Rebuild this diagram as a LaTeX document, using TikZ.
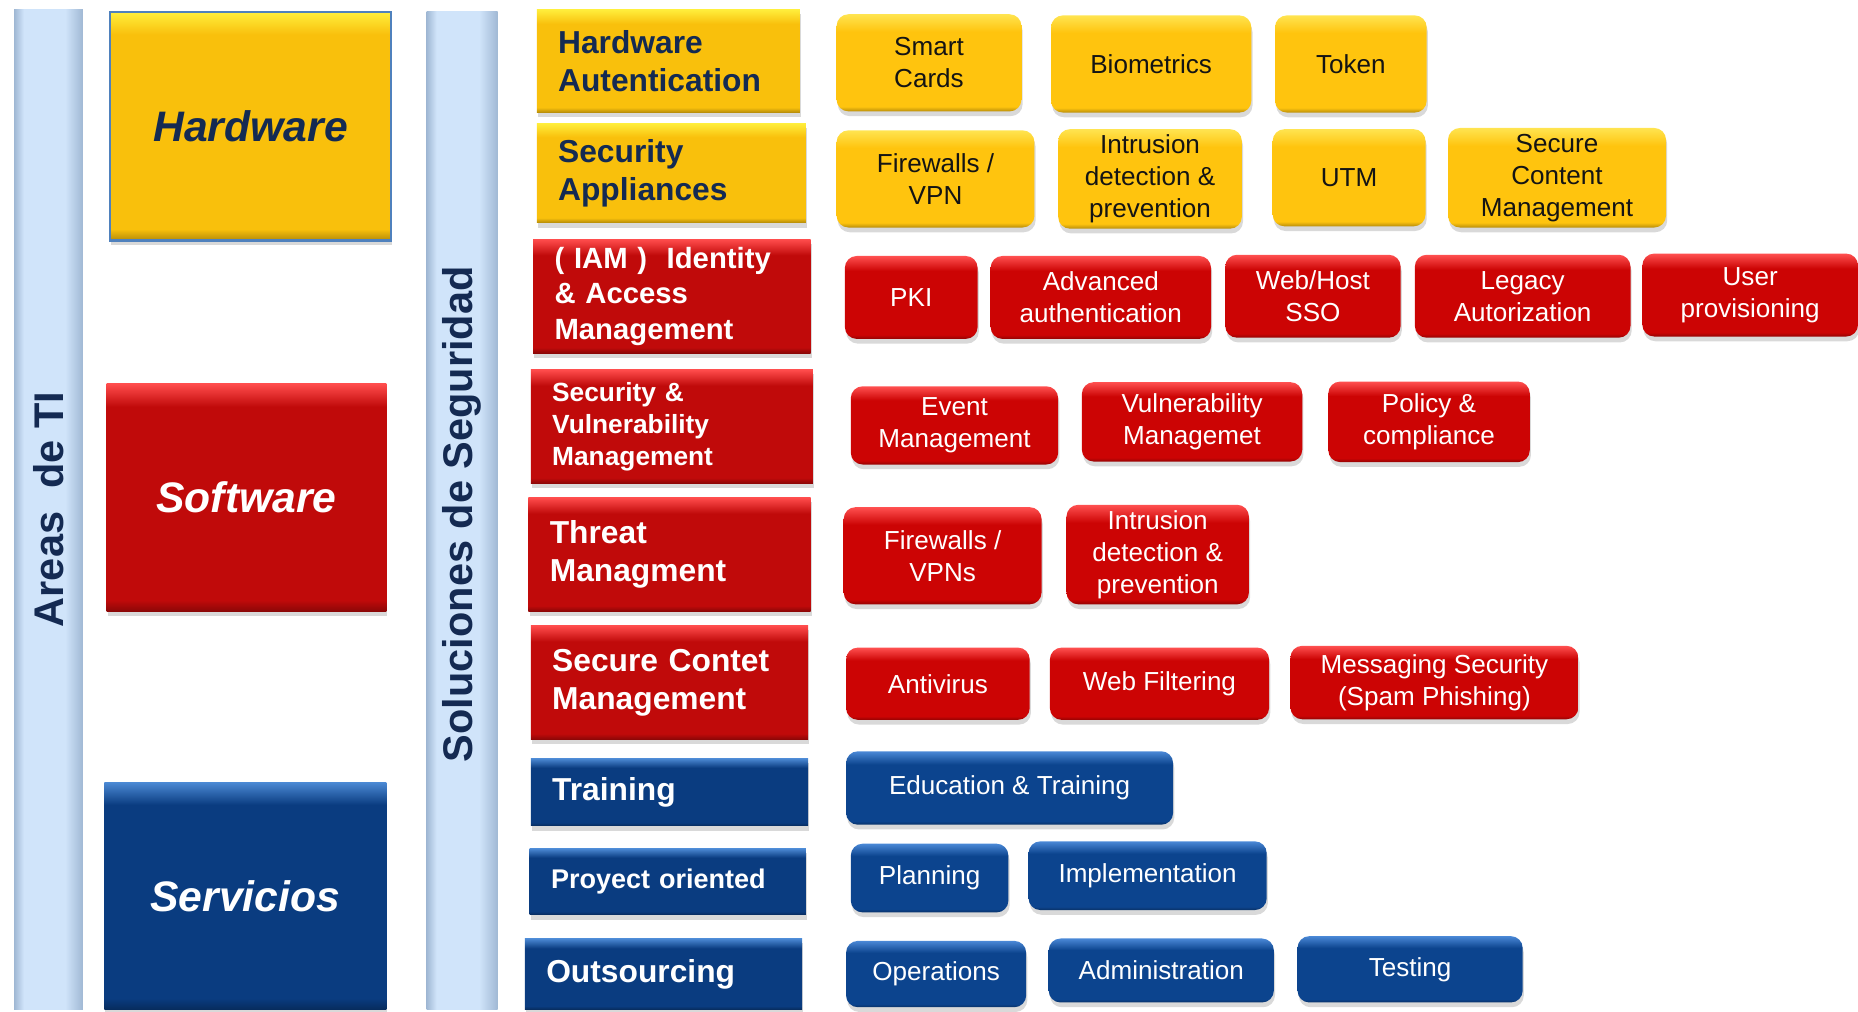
\documentclass[tikz,border=0pt]{standalone}
\usepackage{fontspec}
\setmainfont{Liberation Sans}
\usetikzlibrary{shadows}
\definecolor{catyellow}{RGB}{249, 192, 12}
\definecolor{catyellowtop}{RGB}{255, 238, 60}
\definecolor{catred}{RGB}{192, 10, 10}
\definecolor{catredtop}{RGB}{255, 76, 76}
\definecolor{catblue}{RGB}{10, 60, 128}
\definecolor{catbluetop}{RGB}{76, 138, 213}
\definecolor{itemyellow}{RGB}{255, 196, 14}
\definecolor{itemyellowtop}{RGB}{255, 228, 80}
\definecolor{itemred}{RGB}{204, 4, 4}
\definecolor{itemredtop}{RGB}{255, 80, 80}
\definecolor{itemblue}{RGB}{12, 68, 142}
\definecolor{itembluetop}{RGB}{74, 136, 214}
\definecolor{barlight}{RGB}{208, 228, 250}
\definecolor{baredge}{RGB}{160, 184, 212}
\definecolor{hwborder}{RGB}{79, 129, 189}
\definecolor{navytext}{RGB}{20, 42, 82}
\definecolor{darktext}{RGB}{20, 20, 20}
\newcommand{\boxshade}[4]{%
    \pgfdeclareverticalshading{#1}{100bp}{color(0bp)=(#2!72!black);
        color(25bp)=(#2!72!black); color(27.5bp)=(#2); color(#4bp)=(#2);
        color(75bp)=(#3); color(100bp)=(#3)}}
\boxshade{yellowcatshade}{catyellow}{catyellowtop}{68}
\boxshade{redcatshade}{catred}{catredtop}{68}
\boxshade{bluecatshade}{catblue}{catbluetop}{68}
\boxshade{yellowareashade}{catyellow}{catyellowtop}{70}
\boxshade{redareashade}{catred}{catredtop}{70}
\boxshade{blueareashade}{catblue}{catbluetop}{70}
\boxshade{yellowitemshade}{itemyellow}{itemyellowtop}{66}
\boxshade{reditemshade}{itemred}{itemredtop}{66}
\boxshade{blueitemshade}{itemblue}{itembluetop}{66}
\pgfdeclarehorizontalshading{sidebarshade}{100bp}{color(0bp)=(baredge);
    color(25bp)=(baredge); color(32bp)=(barlight); color(62bp)=(barlight);
    color(75bp)=(baredge); color(100bp)=(baredge)}
\tikzset{
    sidebar/.style={shade, shading=sidebarshade, inner sep=0pt},
    bartext/.style={rotate=90, text=navytext,
        font=\fontsize{35}{40}\selectfont\bfseries},
    areabox/.style={shade, inner sep=0pt,
        font=\fontsize{36}{40}\selectfont\bfseries\itshape,
        drop shadow={opacity=.3, shadow xshift=1pt, shadow yshift=-4pt}},
    catbox/.style={shade, inner xsep=18pt, inner ysep=0pt, align=left,
        font=\fontsize{26.8}{32}\selectfont\bfseries,
        drop shadow={opacity=.3, shadow xshift=1pt, shadow yshift=-4pt}},
    itembox/.style={shade, rounded corners=10pt, inner sep=0pt, align=center,
        font=\fontsize{22}{27}\selectfont,
        drop shadow={opacity=.3, shadow xshift=1pt, shadow yshift=-4pt}},
    yitem/.style={itembox, shading=yellowitemshade, text=darktext},
    ritem/.style={itembox, shading=reditemshade, text=white},
    bitem/.style={itembox, shading=blueitemshade, text=white},
}
\begin{document}
\begin{tikzpicture}[x=1pt, y=-1pt]
    \useasboundingbox (0,0) rectangle (1568,854);
    % side bars
    \node[sidebar, minimum width=58, minimum height=844] (barti) at (41,430) {};
    \node[bartext] (titext) at (41,430) {Areas\ \ de TI};
    \node[sidebar, minimum width=60, minimum height=842] (barsol) at (390,431) {};
    \node[bartext] (soltext) at (390,434) {Soluciones de Seguridad};
    % areas
    \node[areabox, shading=yellowareashade, draw=hwborder, line width=2pt,
        text=navytext, minimum width=237, minimum height=193]
        (hardware) at (211.5,106.5) {Hardware};
    \node[areabox, shading=redareashade, text=white, minimum width=236,
        minimum height=192] (software) at (208,420) {Software};
    \node[areabox, shading=blueareashade, text=white, minimum width=238,
        minimum height=192] (servicios) at (207,756) {Servicios};
    % categories
    \node[catbox, shading=yellowcatshade, text=navytext, text width=186,
        minimum height=87] (hwauth) at (564,51.5) {Hardware\\Autentication};
    \node[catbox, shading=yellowcatshade, text=navytext, text width=191,
        minimum height=84] (secapp) at (566.5,146) {Security\\Appliances};
    \node[catbox, shading=redcatshade, text=white, text width=198,
        minimum height=96, font=\fontsize{24.7}{30}\selectfont\bfseries]
        (iam) at (567,250) {( IAM )~ Identity\\\& Access\\Management};
    \node[catbox, shading=redcatshade, text=white, text width=202,
        minimum height=96, font=\fontsize{22.2}{27}\selectfont\bfseries]
        (secvul) at (567,360) {Security \&\\Vulnerability\\Management};
    \node[catbox, shading=redcatshade, text=white, text width=202,
        minimum height=96] (threat) at (565,468) {Threat\\Managment};
    \node[catbox, shading=redcatshade, text=white, text width=198,
        minimum height=96] (scm) at (565,576) {Secure Contet\\Management};
    \node[catbox, shading=bluecatshade, text=white, text width=198,
        minimum height=57] (training) at (565,668.5) {Training};
    \node[catbox, shading=bluecatshade, text=white, text width=197,
        minimum height=56, font=\fontsize{22.8}{27}\selectfont\bfseries]
        (proyect) at (563.5,744) {Proyect oriented};
    \node[catbox, shading=bluecatshade, text=white, text width=198,
        minimum height=60] (outsourcing) at (560,822) {Outsourcing};
    % hardware autentication
    \node[yitem, minimum width=156, minimum height=82] (smartcards) at (784,53) {Smart\\Cards};
    \node[yitem, minimum width=169, minimum height=82] (biometrics) at (971.5,54) {Biometrics};
    \node[yitem, minimum width=128, minimum height=82] (token) at (1140,54) {Token};
    % security appliances
    \node[yitem, minimum width=167, minimum height=82] (hwfirewall) at (789.5,151) {Firewalls /\\VPN};
    \node[yitem, minimum width=155, minimum height=84] (hwintrusion) at (970.5,151) {Intrusion\\detection \&\\prevention};
    \node[yitem, minimum width=129, minimum height=82] (utm) at (1138.5,150) {UTM};
    \node[yitem, minimum width=184, minimum height=84] (hwcontent) at (1314,150) {Secure\\Content\\Management};
    % iam
    \node[ritem, minimum width=112, minimum height=70] (pki) at (769,251) {PKI};
    \node[ritem, minimum width=186, minimum height=70] (advauth) at (929,251) {Advanced\\authentication};
    \node[ritem, minimum width=148, minimum height=70] (sso) at (1108,250) {Web/Host\\SSO};
    \node[ritem, minimum width=182, minimum height=70] (legacy) at (1285,250) {Legacy\\Autorization};
    \node[ritem, minimum width=182, minimum height=70] (userprov) at (1477,249) {User\\provisioning};
    % security & vulnerability
    \node[ritem, minimum width=175, minimum height=66] (event) at (805.5,359) {Event\\Management};
    \node[ritem, minimum width=186, minimum height=67] (vulnmgmt) at (1006,356) {Vulnerability\\Managemet};
    \node[ritem, minimum width=170, minimum height=68] (policy) at (1206,356) {Policy \&\\compliance};
    % threat
    \node[ritem, minimum width=167, minimum height=82] (swfirewall) at (795.5,469) {Firewalls /\\VPNs};
    \node[ritem, minimum width=154, minimum height=84] (swintrusion) at (977,468) {Intrusion\\detection \&\\prevention};
    % secure content
    \node[ritem, minimum width=155, minimum height=61] (antivirus) at (791.5,577) {Antivirus};
    \node[ritem, minimum width=185, minimum height=61] (webfilter) at (978.5,577) {Web Filtering};
    \node[ritem, minimum width=243, minimum height=62] (messaging) at (1210.5,576) {Messaging Security\\(Spam Phishing)};
    % services
    \node[bitem, minimum width=276, minimum height=62] (education) at (852,665) {Education \& Training};
    \node[bitem, minimum width=133, minimum height=58] (planning) at (784.5,741) {Planning};
    \node[bitem, minimum width=201, minimum height=58] (implement) at (968.5,739) {Implementation};
    \node[bitem, minimum width=152, minimum height=56] (operations) at (790,822) {Operations};
    \node[bitem, minimum width=190, minimum height=54] (admin) at (980,819) {Administration};
    \node[bitem, minimum width=190, minimum height=56] (testing) at (1190,818) {Testing};
\end{tikzpicture}
\end{document}
